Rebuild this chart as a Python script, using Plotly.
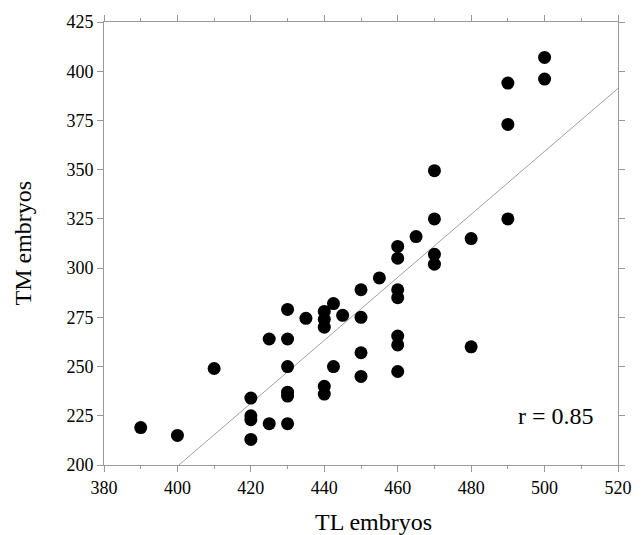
import plotly.graph_objects as go

# TL embryos (x) and TM embryos (y)
tl = [390, 400, 410, 420, 420, 420, 420, 425, 430, 430, 430, 430, 425, 430, 430,
      435, 440, 440, 440, 442.5, 445, 450, 450, 450, 450, 442.5, 440, 440,
      465, 480, 460, 460, 470, 470, 455, 460, 460, 460, 460, 460, 480,
      500, 500, 490, 490, 470, 470, 490]
tm = [219, 215, 249, 234, 225, 223, 213, 221, 221, 237, 235, 250, 264, 264, 279,
      274.5, 278, 274, 270, 282, 276, 289, 275, 257, 245, 250, 240, 236,
      316, 315, 311, 305, 307, 302, 295, 289, 285, 265.5, 261, 247.5, 260,
      407, 396, 394, 373, 349.5, 325, 325]

# regression line end points
fit_x = [400.4, 520]
fit_y = [200, 391.3]

r_label = "r = 0.85"
x_title = "TL embryos"
y_title = "TM embryos"

font_family = "Liberation Serif, Times New Roman, serif"
axis_col = "#999999"

fig = go.Figure()
fig.add_trace(go.Scatter(x=fit_x, y=fit_y, mode="lines",
                         line=dict(color="#a0a0a0", width=1), hoverinfo="skip"))
fig.add_trace(go.Scatter(x=tl, y=tm, mode="markers",
                         marker=dict(color="black", size=13, line=dict(width=0))))

fig.update_layout(
    width=644, height=535,
    margin=dict(l=104, r=14, t=22, b=70),
    paper_bgcolor="white", plot_bgcolor="white",
    showlegend=False,
    font=dict(family=font_family, size=18, color="black"),
    xaxis=dict(range=[380, 520], dtick=20, tick0=380, showgrid=False, zeroline=False,
               showline=True, linecolor=axis_col, linewidth=1, mirror="ticks",
               ticks="outside", ticklen=6, tickcolor=axis_col, tickwidth=1,
               minor=dict(dtick=10, ticks="outside", ticklen=3, tickcolor=axis_col, showgrid=False),
               tickfont=dict(family=font_family, size=18, color="black")),
    yaxis=dict(range=[200, 425], dtick=25, tick0=200, showgrid=False, zeroline=False,
               showline=True, linecolor=axis_col, linewidth=1, mirror="ticks",
               ticks="outside", ticklen=6, tickcolor=axis_col, tickwidth=1,
               tickfont=dict(family=font_family, size=18, color="black")),
    annotations=[
        dict(text=x_title, xref="paper", yref="paper", x=0.525, y=0, yshift=-57,
             xanchor="center", yanchor="middle", showarrow=False,
             font=dict(family=font_family, size=24, color="black")),
        dict(text=y_title, xref="paper", yref="paper", x=0, xshift=-82, y=0.5,
             xanchor="center", yanchor="middle", textangle=-90, showarrow=False,
             font=dict(family=font_family, size=24, color="black")),
        dict(text=r_label, x=503, y=225, xref="x", yref="y",
             xanchor="center", yanchor="middle", showarrow=False,
             font=dict(family=font_family, size=24, color="black")),
    ],
)

fig.write_html("out.html",
               config={"displayModeBar": False, "responsive": False},
               post_script="document.body.style.margin='0';document.body.style.overflow='hidden';")
